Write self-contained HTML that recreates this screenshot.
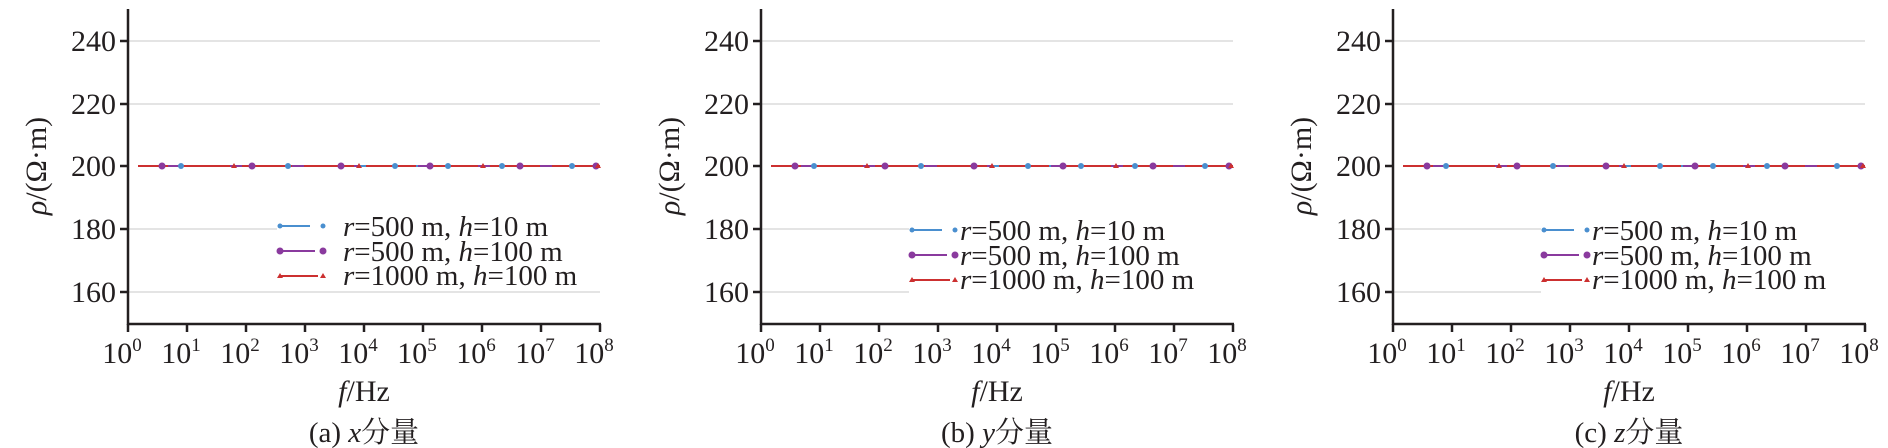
<!DOCTYPE html>
<html><head><meta charset="utf-8"><style>
html,body{margin:0;padding:0;background:#fff;width:1888px;height:448px;overflow:hidden}
svg{display:block}
text{font-family:"Liberation Serif","Noto Serif CJK SC",serif;fill:#231f20}
</style></head><body>
<svg width="1888" height="448" xmlns="http://www.w3.org/2000/svg">
<defs>
<g id="panel">
  <g stroke="#dcdcdc" stroke-width="1.5">
    <line x1="0" x2="472" y1="41" y2="41"/>
    <line x1="0" x2="472" y1="104" y2="104"/>
    <line x1="0" x2="472" y1="229" y2="229"/>
    <line x1="0" x2="472" y1="292" y2="292"/>
  </g>
  <line x1="20" x2="472" y1="166" y2="166" stroke="#4a8fcf" stroke-width="2" stroke-dasharray="30 8"/>
  <line x1="40" x2="472" y1="166" y2="166" stroke="#8a3a9e" stroke-width="2" stroke-dasharray="40 10"/>
  <line x1="10" x2="472" y1="166" y2="166" stroke="#cc3030" stroke-width="2" stroke-dasharray="50 12" stroke-dashoffset="20"/>
  <g fill="#4a8fcf">
    <circle cx="53" cy="166" r="3"/><circle cx="160" cy="166" r="3"/><circle cx="267" cy="166" r="3"/>
    <circle cx="320" cy="166" r="3"/><circle cx="374" cy="166" r="3"/><circle cx="444" cy="166" r="3"/>
  </g>
  <g fill="#8a3a9e">
    <circle cx="34" cy="166" r="3.5"/><circle cx="124" cy="166" r="3.5"/><circle cx="213" cy="166" r="3.5"/>
    <circle cx="302" cy="166" r="3.5"/><circle cx="392" cy="166" r="3.5"/><circle cx="468" cy="166" r="3.5"/>
  </g>
  <g fill="#cc3030">
    <path d="M106 163l3 5h-6z"/><path d="M231 163l3 5h-6z"/><path d="M355 163l3 5h-6z"/><path d="M470 163l3 5h-6z"/>
  </g>
  <g stroke="#231f20" stroke-width="2.5" fill="none">
    <line x1="0" y1="9" x2="0" y2="325"/>
    <line x1="-1" y1="324" x2="473" y2="324"/>
    <line x1="-8" y1="41" x2="0" y2="41"/><line x1="-8" y1="104" x2="0" y2="104"/>
    <line x1="-8" y1="166" x2="0" y2="166"/><line x1="-8" y1="229" x2="0" y2="229"/>
    <line x1="-8" y1="292" x2="0" y2="292"/>
    <line x1="0" y1="324" x2="0" y2="332"/><line x1="59" y1="324" x2="59" y2="332"/>
    <line x1="118" y1="324" x2="118" y2="332"/><line x1="177" y1="324" x2="177" y2="332"/>
    <line x1="236" y1="324" x2="236" y2="332"/><line x1="295" y1="324" x2="295" y2="332"/>
    <line x1="354" y1="324" x2="354" y2="332"/><line x1="413" y1="324" x2="413" y2="332"/>
    <line x1="472" y1="324" x2="472" y2="332"/>
  </g>
  <g font-size="30" text-anchor="end">
    <text x="-12" y="51">240</text><text x="-12" y="114">220</text>
    <text x="-12" y="176">200</text><text x="-12" y="239">180</text>
    <text x="-12" y="302">160</text>
  </g>
  <g font-size="30" text-anchor="middle">
    <text x="-6" y="363">10<tspan font-size="19" dy="-12">0</tspan></text>
    <text x="53" y="363">10<tspan font-size="19" dy="-12">1</tspan></text>
    <text x="112" y="363">10<tspan font-size="19" dy="-12">2</tspan></text>
    <text x="171" y="363">10<tspan font-size="19" dy="-12">3</tspan></text>
    <text x="230" y="363">10<tspan font-size="19" dy="-12">4</tspan></text>
    <text x="289" y="363">10<tspan font-size="19" dy="-12">5</tspan></text>
    <text x="348" y="363">10<tspan font-size="19" dy="-12">6</tspan></text>
    <text x="407" y="363">10<tspan font-size="19" dy="-12">7</tspan></text>
    <text x="466" y="363">10<tspan font-size="19" dy="-12">8</tspan></text>
    <text x="236" y="401"><tspan font-style="italic">f</tspan>/Hz</text>
  </g>
  <text font-size="30" text-anchor="middle" transform="translate(-82,166) rotate(-90)"><tspan font-style="italic">ρ</tspan>/(Ω·m)</text>
</g>
<g id="leg">
  <rect x="-3" y="-17" width="330" height="82" fill="#fff"/>
  <line x1="0" x2="30" y1="0" y2="0" stroke="#4a8fcf" stroke-width="2"/>
  <circle cx="0" cy="0" r="2.5" fill="#4a8fcf"/><circle cx="43" cy="0" r="2.5" fill="#4a8fcf"/>
  <line x1="0" x2="35" y1="25" y2="25" stroke="#8a3a9e" stroke-width="2"/>
  <circle cx="0" cy="25" r="3.5" fill="#8a3a9e"/><circle cx="43" cy="25" r="3.5" fill="#8a3a9e"/>
  <line x1="0" x2="38" y1="50" y2="50" stroke="#cc3030" stroke-width="2"/>
  <path d="M0 47l3 5h-6zM43 47l3 5h-6z" fill="#cc3030"/>
</g>
</defs>

<g transform="translate(128,0)">
  <use href="#panel"/>
  <use href="#leg" transform="translate(152,226)"/>
  <g font-size="29">
    <text x="215" y="236"><tspan font-style="italic">r</tspan>=500 m, <tspan font-style="italic">h</tspan>=10 m</text>
    <text x="215" y="261"><tspan font-style="italic">r</tspan>=500 m, <tspan font-style="italic">h</tspan>=100 m</text>
    <text x="215" y="285"><tspan font-style="italic">r</tspan>=1000 m, <tspan font-style="italic">h</tspan>=100 m</text>
  </g>
  <text x="236" y="442" font-size="29" text-anchor="middle">(a) <tspan font-style="italic">x</tspan>分量</text>
</g>
<g transform="translate(761,0)">
  <use href="#panel"/>
  <use href="#leg" transform="translate(151,230)"/>
  <g font-size="29">
    <text x="199" y="240"><tspan font-style="italic">r</tspan>=500 m, <tspan font-style="italic">h</tspan>=10 m</text>
    <text x="199" y="265"><tspan font-style="italic">r</tspan>=500 m, <tspan font-style="italic">h</tspan>=100 m</text>
    <text x="199" y="289"><tspan font-style="italic">r</tspan>=1000 m, <tspan font-style="italic">h</tspan>=100 m</text>
  </g>
  <text x="236" y="442" font-size="29" text-anchor="middle">(b) <tspan font-style="italic">y</tspan>分量</text>
</g>
<g transform="translate(1393,0)">
  <use href="#panel"/>
  <use href="#leg" transform="translate(151,230)"/>
  <g font-size="29">
    <text x="199" y="240"><tspan font-style="italic">r</tspan>=500 m, <tspan font-style="italic">h</tspan>=10 m</text>
    <text x="199" y="265"><tspan font-style="italic">r</tspan>=500 m, <tspan font-style="italic">h</tspan>=100 m</text>
    <text x="199" y="289"><tspan font-style="italic">r</tspan>=1000 m, <tspan font-style="italic">h</tspan>=100 m</text>
  </g>
  <text x="236" y="442" font-size="29" text-anchor="middle">(c) <tspan font-style="italic">z</tspan>分量</text>
</g>
</svg>
</body></html>
